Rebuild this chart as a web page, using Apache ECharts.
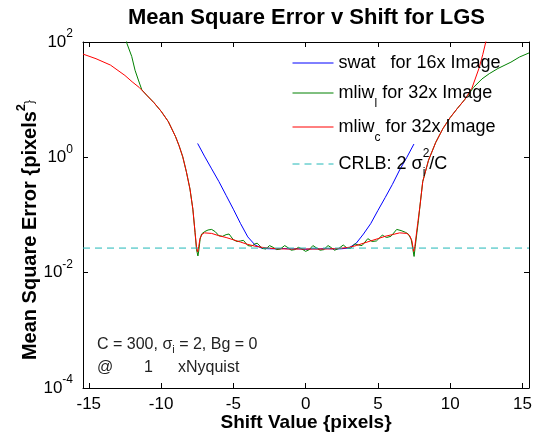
<!DOCTYPE html>
<html><head><meta charset="utf-8">
<script src="https://cdn.jsdelivr.net/npm/echarts@6/dist/echarts.min.js"></script>
<style>html,body{margin:0;padding:0;background:#fff}#c{width:535px;height:439px}</style>
</head><body><div id="c"></div>
<script>
// ---- data ----
const xTicks = [-15, -10, -5, 0, 5, 10, 15];
const yTicks = [1e-4, 1e-2, 1, 100];

// swat for 16x Image  [shift, MSE]
const swat = [[-7.47,1.74],[-7,1.05],[-6.5,0.631],[-6,0.38],[-5.5,0.219],[-5,0.126],[-4.5,0.0708],[-4,0.0417],
  [-3.5,0.0302],[-3,0.0263],[-2.5,0.026],[-2,0.0259],[-1.5,0.0262],[-1,0.0257],[-0.5,0.026],[0,0.0254],[0.5,0.026],
  [1,0.0258],[1.5,0.0261],[2,0.0257],[2.5,0.026],[3,0.0269],[3.5,0.0324],[4,0.0468],[4.5,0.0708],[5,0.12],
  [5.5,0.2],[6,0.339],[6.5,0.603],[7,1.0],[7.49,1.7]];

// mliw_l for 32x Image
const mliwL = [[-12.5,158],[-12.37,95.5],[-12.03,56.2],[-11.8,32.4],[-11.57,21.9],[-11.33,14.8],[-11,12.0],[-10.5,8.91],
  [-10,6.31],[-9.5,4.17],[-9,2.29],[-8.75,1.58],[-8.5,1.02],[-8.25,0.562],[-8,0.282],[-7.8,0.126],[-7.65,0.0501],
  [-7.55,0.0251],[-7.45,0.0195],[-7.38,0.0251],[-7.3,0.038],[-7.2,0.0468],[-7.0,0.0513],[-6.75,0.055],[-6.5,0.0562],
  [-6.25,0.0513],[-6.0,0.0437],[-5.75,0.0427],[-5.5,0.0457],[-5.3,0.0468],[-5.0,0.0372],[-4.75,0.0347],[-4.5,0.0355],
  [-4.3,0.0363],[-4.0,0.0295],[-3.75,0.0288],[-3.5,0.0316],[-3.35,0.0324],[-3.0,0.0263],[-2.75,0.0257],[-2.5,0.0295],
  [-2.25,0.0275],[-2.0,0.0251],[-1.75,0.0257],[-1.45,0.0295],[-1.2,0.0269],[-1.0,0.0245],[-0.75,0.0251],[-0.5,0.0275],
  [-0.25,0.0257],[0,0.0234],[0.25,0.0251],[0.5,0.0295],[0.75,0.0269],[1.0,0.0245],[1.25,0.0251],[1.55,0.0295],
  [1.8,0.0269],[2.0,0.0245],[2.3,0.0263],[2.6,0.0302],[2.85,0.0269],[3.1,0.0263],[3.4,0.0316],[3.65,0.0302],
  [3.9,0.0295],[4.3,0.0389],[4.6,0.0347],[4.9,0.0355],[5.3,0.0447],[5.6,0.0407],[5.9,0.0427],[6.3,0.0562],
  [6.6,0.0537],[6.9,0.0501],[7.1,0.0468],[7.3,0.038],[7.42,0.0251],[7.5,0.0191],[7.58,0.0282],[7.7,0.0501],
  [7.8,0.0794],[7.9,0.138],[8.1,0.38],[8.5,0.891],[9,1.82],[9.5,3.16],[10,4.9],[10.5,7.08],[11,10.0],[11.3,12.6],
  [11.6,16.2],[12.2,22.9],[12.7,28.2],[13.3,34.7],[14.2,44.7],[14.8,55.0],[15.45,64.6]];

// mliw_c for 32x Image
const mliwC = [[-15.4,61.7],[-14.5,51.3],[-13.5,39.8],[-12.5,26.3],[-12,20.4],[-11.5,16.2],[-11,12.0],[-10.5,8.91],
  [-10,6.31],[-9.5,4.17],[-9,2.29],[-8.75,1.58],[-8.5,1.02],[-8.25,0.562],[-8,0.282],[-7.8,0.126],[-7.65,0.0501],
  [-7.55,0.0282],[-7.47,0.0229],[-7.4,0.0282],[-7.3,0.0398],[-7.15,0.0468],[-7,0.049],[-6.5,0.0479],[-6,0.0437],
  [-5.5,0.0407],[-5,0.0372],[-4.5,0.0339],[-4,0.0309],[-3.5,0.0288],[-3,0.0275],[-2.5,0.0266],[-2,0.026],[-1,0.0257],
  [0,0.0257],[1,0.0257],[2,0.026],[2.5,0.0266],[3,0.0275],[3.5,0.0295],[4,0.0324],[4.5,0.0355],[5,0.0389],
  [5.5,0.0427],[6,0.0457],[6.5,0.049],[7,0.0479],[7.2,0.0437],[7.35,0.0355],[7.47,0.0234],[7.55,0.0282],
  [7.65,0.0447],[7.75,0.0708],[7.9,0.138],[8.1,0.38],[8.5,0.891],[9,1.82],[9.5,3.16],[10,4.9],[10.5,7.08],
  [11,10.0],[11.5,15.8],[12,35.5],[12.25,60.3],[12.5,110],[12.7,200]];

// CRLB: 2 sigma_i^2 / C  (C = 300, sigma_i = 2)
const crlb = [[-15.4,0.0267],[15.45,0.0267]];

// ---- chart ----
const F = '"Liberation Sans", Arial, Helvetica, sans-serif';
const chart = echarts.init(document.getElementById('c'), null, {renderer:'canvas'});

const legRich = {
  n:  {fontSize:18, lineHeight:20, fontFamily:F, color:'#000', verticalAlign:'middle'},
  sb: {fontSize:12, lineHeight:12, fontFamily:F, color:'#000', padding:[22,0,0,0], verticalAlign:'middle'},
  si: {fontSize:12, lineHeight:12, fontFamily:F, color:'#000', padding:[18,0,0,0], width:0, verticalAlign:'middle'},
  sp: {fontSize:12, lineHeight:12, fontFamily:F, color:'#000', padding:[0,0,20,0], verticalAlign:'middle'}
};
function leg(name, top, text){
  return {data:[name], left:292, top:top, padding:0, itemWidth:41, itemHeight:2, itemGap:0,
    selectedMode:false, formatter:function(){return text;},
    itemStyle:{opacity:0, borderWidth:0},
    lineStyle:{width:1},
    textStyle:{color:'#000', fontFamily:F, fontSize:18, rich:legRich}};
}

const axisLineStyle = {color:'#000', width:1};
const option = {
  animation:false,
  backgroundColor:'#fff',
  textStyle:{fontFamily:F},
  title:{text:'Mean Square Error v Shift for LGS', left:128, top:7, padding:0,
    textStyle:{fontSize:22, fontWeight:'bold', color:'#000', fontFamily:F}},
  grid:{left:83, right:6, top:42, bottom:51, containLabel:false, outerBoundsMode:'none'},
  legend:[
    leg('swat', 54, '{n|swat   for 16x Image}'),
    leg('mliwl', 76, '{n|mliw}{sb|l}{n| for 32x Image}'),
    leg('mliwc', 110, '{n|mliw}{sb|c}{n| for 32x Image}'),
    leg('CRLB', 148, '{n|CRLB: 2 σ}{si|i}{sp|2}{n|/C}')
  ],
  xAxis:[
    {type:'value', min:-15.4, max:15.45, position:'bottom',
     axisLine:{show:true, onZero:false, lineStyle:axisLineStyle},
     axisTick:{show:true, inside:true, length:5, customValues:xTicks, lineStyle:axisLineStyle},
     axisLabel:{show:true, customValues:xTicks, fontSize:17, color:'#000', margin:8, fontFamily:F},
     splitLine:{show:false},
     name:'Shift Value {pixels}', nameLocation:'middle', nameGap:25, nameMoveOverlap:false,
     nameTextStyle:{fontSize:19, fontWeight:'bold', color:'#000', fontFamily:F}},
    {type:'value', min:-15.4, max:15.45, position:'top',
     axisLine:{show:true, onZero:false, lineStyle:axisLineStyle},
     axisTick:{show:true, inside:true, length:5, customValues:xTicks, lineStyle:axisLineStyle},
     axisLabel:{show:false}, splitLine:{show:false}}
  ],
  yAxis:[
    {type:'log', logBase:10, min:1e-4, max:100, position:'left',
     axisLine:{show:true, onZero:false, lineStyle:axisLineStyle},
     axisTick:{show:true, inside:true, length:5, customValues:yTicks, lineStyle:axisLineStyle},
     minorTick:{show:false},
     axisLabel:{show:true, customValues:yTicks, margin:10,
       formatter:function(v){ return '{b|10}{s|' + Math.round(Math.log10(v)) + '}'; },
       rich:{b:{fontSize:17, lineHeight:18, color:'#000', fontFamily:F, verticalAlign:'middle'},
             s:{fontSize:12, lineHeight:12, color:'#000', fontFamily:F, padding:[0,0,16,0], verticalAlign:'middle'}}},
     splitLine:{show:false},
     name:'{m|Mean Square Error {pixels}{p|2}{m|}}', nameLocation:'middle', nameRotate:90, nameGap:43,
     nameMoveOverlap:false,
     nameTextStyle:{padding:[0,30,0,0], rich:{
       m:{fontSize:20, fontWeight:'bold', lineHeight:20, color:'#000', fontFamily:F, verticalAlign:'middle'},
       p:{fontSize:13, fontWeight:'bold', lineHeight:13, color:'#000', fontFamily:F, padding:[0,0,18,0], verticalAlign:'middle'}}}},
    {type:'log', logBase:10, min:1e-4, max:100, position:'right',
     axisLine:{show:true, onZero:false, lineStyle:axisLineStyle},
     axisTick:{show:true, inside:true, length:5, customValues:yTicks, lineStyle:axisLineStyle},
     minorTick:{show:false},
     axisLabel:{show:false}, splitLine:{show:false}}
  ],
  graphic:[
    {type:'text', left:97, top:334, silent:true, style:{
      text:'{n|C = 300, σ}{sb|i}{n| = 2, Bg = 0}', fill:'#222',
      rich:{n:{fontSize:16, lineHeight:18, fontFamily:F, fill:'#222', verticalAlign:'middle'},
            sb:{fontSize:11, lineHeight:11, fontFamily:F, fill:'#222', padding:[10,0,0,0], verticalAlign:'middle'}}}},
    {type:'text', left:97, top:360, silent:true, style:{text:'@', fill:'#222', fontSize:16, fontFamily:F}},
    {type:'text', left:144, top:360, silent:true, style:{text:'1', fill:'#222', fontSize:16, fontFamily:F}},
    {type:'text', left:178, top:360, silent:true, style:{text:'xNyquist', fill:'#222', fontSize:16, fontFamily:F}}
  ],
  series:[
    {name:'swat', type:'line', data:swat, symbol:'none', showSymbol:false, silent:true,
     lineStyle:{color:'#0000ff', width:1}, itemStyle:{color:'#0000ff'}},
    {name:'mliwl', type:'line', data:mliwL, symbol:'none', showSymbol:false, silent:true,
     lineStyle:{color:'#008000', width:1}, itemStyle:{color:'#008000'}},
    {name:'mliwc', type:'line', data:mliwC, symbol:'none', showSymbol:false, silent:true,
     lineStyle:{color:'#ff0000', width:1}, itemStyle:{color:'#ff0000'}},
    {name:'CRLB', type:'line', data:crlb, symbol:'none', showSymbol:false, silent:true,
     lineStyle:{color:'#22b8b8', width:1, type:[7,5]}, itemStyle:{color:'#22b8b8'}}
  ]
};
chart.setOption(option);
</script>
</body></html>
